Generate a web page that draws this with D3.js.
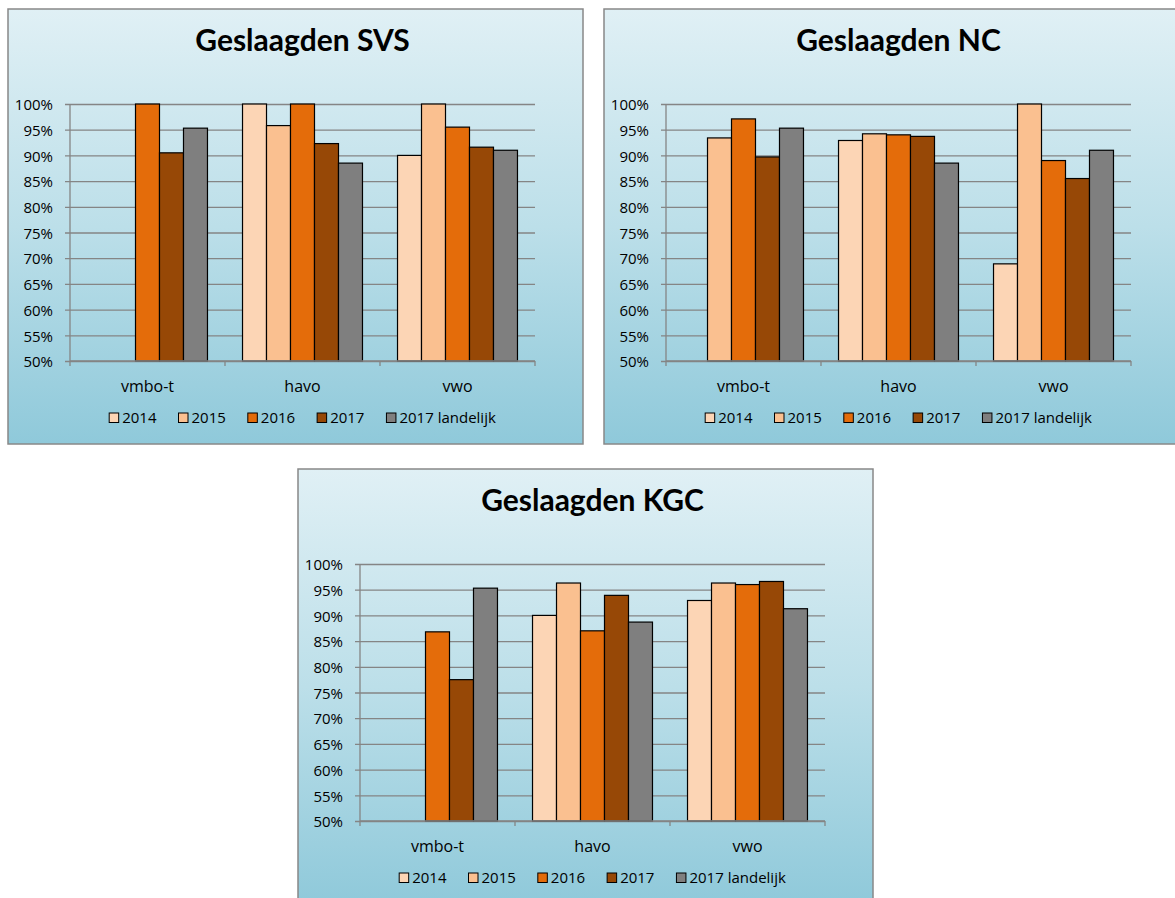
<!DOCTYPE html>
<html>
<head>
<meta charset="utf-8">
<script src="https://cdnjs.cloudflare.com/ajax/libs/d3/7.8.5/d3.min.js"></script>
<style>
  body { margin: 0; background: #fff; }
  text { font-family: "Open Sans", Lato, sans-serif; fill: #000; }
</style>
</head>
<body>
<svg id="chart" width="1175" height="898"></svg>
<script>
// categories and series
const categories = ["vmbo-t", "havo", "vwo"];
const series = ["2014", "2015", "2016", "2017", "2017 landelijk"];
const seriesColors = ["#fcd5b5", "#fac090", "#e46c0a", "#974806", "#7f7f7f"];
const yTicks = [0.50, 0.55, 0.60, 0.65, 0.70, 0.75, 0.80, 0.85, 0.90, 0.95, 1.00];

// pass rates per category, one value per series (null = no bar)
const svsVmbo = [null, null, 1.000, 0.905, 0.953];
const svsHavo = [1.000, 0.958, 1.000, 0.923, 0.885];
const svsVwo  = [0.900, 1.000, 0.955, 0.916, 0.910];

const ncVmbo = [null, 0.934, 0.971, 0.897, 0.953];
const ncHavo = [0.929, 0.942, 0.940, 0.937, 0.885];
const ncVwo  = [0.689, 1.000, 0.890, 0.855, 0.910];

const kgcVmbo = [null, null, 0.868, 0.775, 0.953];
const kgcHavo = [0.900, 0.963, 0.870, 0.939, 0.887];
const kgcVwo  = [0.929, 0.963, 0.960, 0.966, 0.913];

const panels = [
  { title: "Geslaagden SVS", x: 8,   y: 9,   values: [svsVmbo, svsHavo, svsVwo] },
  { title: "Geslaagden NC",  x: 604, y: 9,   values: [ncVmbo, ncHavo, ncVwo] },
  { title: "Geslaagden KGC", x: 298, y: 469, values: [kgcVmbo, kgcHavo, kgcVwo] }
];

const W = 575, H = 435;
const plot = { left: 62, right: 527, top: 95, bottom: 352 };
const gridColor = "#858585";

const svg = d3.select("#chart");
const defs = svg.append("defs");
const grad = defs.append("linearGradient").attr("id", "bg")
  .attr("x1", 0).attr("y1", 0).attr("x2", 0).attr("y2", 1);
grad.append("stop").attr("offset", "0%").attr("stop-color", "#e0f0f5");
grad.append("stop").attr("offset", "50%").attr("stop-color", "#bcdfe9");
grad.append("stop").attr("offset", "100%").attr("stop-color", "#8fc9da");

const y = d3.scaleLinear().domain([0.5, 1]).range([plot.bottom, plot.top]);
const x0 = d3.scaleBand().domain(categories).range([plot.left, plot.right]);
const bw = x0.bandwidth();
const x1 = d3.scaleBand().domain(series).range([bw * 0.113, bw * 0.887]);
const color = d3.scaleOrdinal().domain(series).range(seriesColors);

panels.forEach(p => {
  const g = svg.append("g").attr("transform", `translate(${p.x},${p.y})`);

  g.append("rect")
    .attr("width", W).attr("height", H)
    .attr("fill", "url(#bg)")
    .attr("stroke", "#888").attr("stroke-width", 1.5);

  g.append("text")
    .attr("x", (plot.left + plot.right) / 2)
    .attr("y", 34)
    .attr("text-anchor", "middle")
    .attr("dominant-baseline", "middle")
    .style("font-family", "Lato, sans-serif")
    .style("font-size", "30px")
    .style("font-weight", "bold")
    .text(p.title);

  // gridlines + y axis
  const yAxis = d3.axisLeft(y).tickValues(yTicks)
    .tickSize(-(plot.right - plot.left)).tickSizeOuter(0)
    .tickPadding(17)
    .tickFormat(d3.format(".0%"));
  const ya = g.append("g").attr("transform", `translate(${plot.left},0)`).call(yAxis);
  ya.select(".domain").remove();
  ya.selectAll(".tick line").attr("stroke", gridColor).attr("stroke-width", 1.3).attr("x1", -5);
  ya.selectAll(".tick text")
    .attr("dy", "0.38em")
    .style("font-size", "15px")
    .style("font-family", "'Open Sans', sans-serif")
    .attr("fill", "#000");
  g.append("line")
    .attr("x1", plot.left).attr("x2", plot.left)
    .attr("y1", plot.top).attr("y2", plot.bottom)
    .attr("stroke", gridColor).attr("stroke-width", 1.3);

  // bars
  const groups = g.selectAll(".cat").data(categories).join("g")
    .attr("transform", d => `translate(${x0(d)},0)`);
  groups.each(function (c, ci) {
    const vals = p.values[ci].map((v, si) => ({ key: series[si], v: v }))
      .filter(d => d.v != null);
    d3.select(this).selectAll("rect").data(vals).join("rect")
      .attr("x", d => x1(d.key))
      .attr("y", d => y(d.v))
      .attr("width", x1.bandwidth())
      .attr("height", d => y(0.5) - y(d.v))
      .attr("fill", d => color(d.key))
      .attr("stroke", "#000").attr("stroke-width", 1.2);
  });

  // x axis
  g.append("line")
    .attr("x1", plot.left).attr("x2", plot.right)
    .attr("y1", plot.bottom).attr("y2", plot.bottom)
    .attr("stroke", gridColor).attr("stroke-width", 1.3);
  const edges = categories.map(c => x0(c)).concat([plot.right]);
  g.selectAll(".xtick").data(edges).join("line")
    .attr("x1", d => d).attr("x2", d => d)
    .attr("y1", plot.bottom).attr("y2", plot.bottom + 5)
    .attr("stroke", gridColor).attr("stroke-width", 1.3);
  g.selectAll(".xlab").data(categories).join("text")
    .attr("x", d => x0(d) + bw / 2)
    .attr("y", plot.bottom + 27)
    .attr("text-anchor", "middle")
    .attr("dominant-baseline", "middle")
    .style("font-size", "16px")
    .text(d => d);

  // legend
  const leg = g.append("g");
  let cx = 0;
  series.forEach((s, i) => {
    const it = leg.append("g").attr("transform", `translate(${cx},0)`);
    it.append("rect").attr("x", 0).attr("y", -5).attr("width", 9.5).attr("height", 9.5)
      .attr("fill", seriesColors[i]).attr("stroke", "#000").attr("stroke-width", 1);
    const t = it.append("text").attr("x", 13).attr("y", 0.5)
      .attr("dominant-baseline", "middle")
      .style("font-size", "15px").text(s);
    cx += 13 + t.node().getComputedTextLength() + 22;
  });
  cx -= 22;
  leg.attr("transform", `translate(${(plot.left + plot.right) / 2 - cx / 2},${plot.bottom + 57})`);
});
</script>
</body>
</html>
